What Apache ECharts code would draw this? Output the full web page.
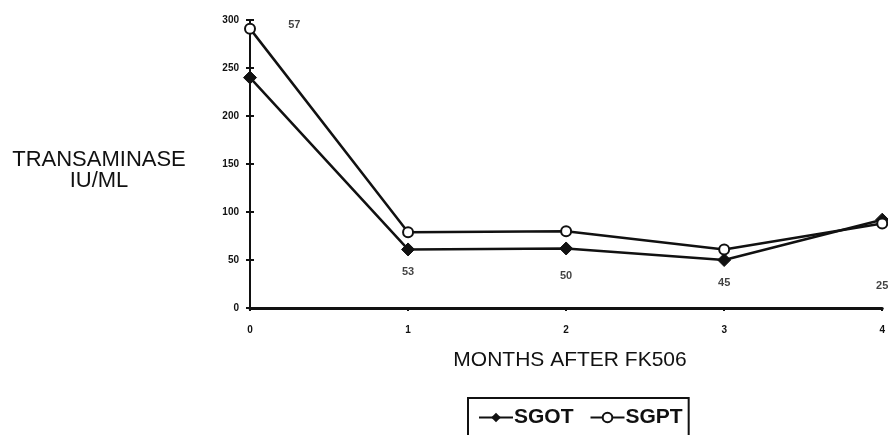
<!DOCTYPE html>
<html>
<head>
<meta charset="utf-8">
<script src="https://cdn.jsdelivr.net/npm/echarts@6/dist/echarts.min.js"></script>
<style>html,body{margin:0;padding:0;background:#fff;}#c{width:888px;height:435px;}</style>
</head>
<body>
<div id="c"></div>
<script>
var months = [0, 1, 2, 3, 4];
var sgot = [240, 61, 62, 50, 92];
var sgpt = [291, 79, 80, 61, 88];
var noteText = ['57', '53', '50', '45', '25'];
var noteX = [0.28, 1, 2, 3, 4];
var noteY = [295, 38, 33, 26, 23];
var yTicks = [0, 50, 100, 150, 200, 250, 300];

var chart = echarts.init(document.getElementById('c'));
var font = '"Liberation Sans", Arial, sans-serif';
chart.setOption({
  animation: false,
  backgroundColor: '#fff',
  grid: {left: 250, right: 2, top: 20, bottom: 127, containLabel: false},
  xAxis: {
    type: 'value', min: 0, max: 4, interval: 1,
    axisLine: {lineStyle: {color: '#111', width: 3}},
    axisTick: {show: true, length: 3, lineStyle: {color: '#111', width: 2}},
    axisLabel: {color: '#111', fontSize: 10, fontWeight: 'bold', fontFamily: font, margin: 17},
    splitLine: {show: false}
  },
  yAxis: [{
    type: 'value', min: 0, max: 300, interval: 50,
    axisLine: {show: true, lineStyle: {color: '#111', width: 2}},
    axisTick: {show: true, length: 4, lineStyle: {color: '#111', width: 2}},
    axisLabel: {color: '#111', fontSize: 10, fontWeight: 'bold', fontFamily: font, margin: 11},
    splitLine: {show: false}
  }, {
    type: 'value', min: 0, max: 300, interval: 50, position: 'left', offset: 0,
    axisLine: {show: false},
    axisTick: {show: true, inside: true, length: 4, lineStyle: {color: '#111', width: 2}},
    axisLabel: {show: false},
    splitLine: {show: false}
  }],
  legend: {
    left: 468, top: 398,
    orient: 'horizontal',
    data: ['SGOT', 'SGPT'],
    borderColor: '#111', borderWidth: 2, borderRadius: 0,
    padding: [9, 6, 14, 10],
    itemGap: 16, itemWidth: 34, itemHeight: 12,
    textStyle: {color: '#111', fontSize: 21, fontWeight: 'bold', fontFamily: font, padding: [0, 0, 0, -4]}
  },
  graphic: [
    {type: 'text', x: 99, y: 149, style: {text: 'TRANSAMINASE', font: '22px ' + font, fill: '#111', textAlign: 'center'}},
    {type: 'text', x: 99, y: 170, style: {text: 'IU/ML', font: '22px ' + font, fill: '#111', textAlign: 'center'}},
    {type: 'text', x: 570, y: 350, style: {text: 'MONTHS AFTER FK506', font: '21px ' + font, fill: '#111', textAlign: 'center'}}
  ],
  series: [{
    name: 'SGOT', type: 'line',
    data: months.map(function (m, i) { return [m, sgot[i]]; }),
    symbol: 'diamond', symbolSize: 13,
    lineStyle: {color: '#111', width: 2.5},
    itemStyle: {color: '#111', borderColor: '#111'},
    clip: false
  }, {
    name: 'SGPT', type: 'line',
    data: months.map(function (m, i) { return [m, sgpt[i]]; }),
    symbol: 'circle', symbolSize: 10,
    lineStyle: {color: '#111', width: 2.5},
    itemStyle: {color: '#fff', borderColor: '#111', borderWidth: 2},
    clip: false
  }, {
    name: 'notes', type: 'scatter',
    data: noteX.map(function (x, i) { return [x, noteY[i], noteText[i]]; }),
    symbolSize: 0,
    silent: true,
    label: {show: true, position: 'inside', formatter: function (p) { return p.data[2]; },
      color: '#111', fontSize: 11, fontWeight: 'bold', fontFamily: font}
  }]
});
</script>
</body>
</html>
